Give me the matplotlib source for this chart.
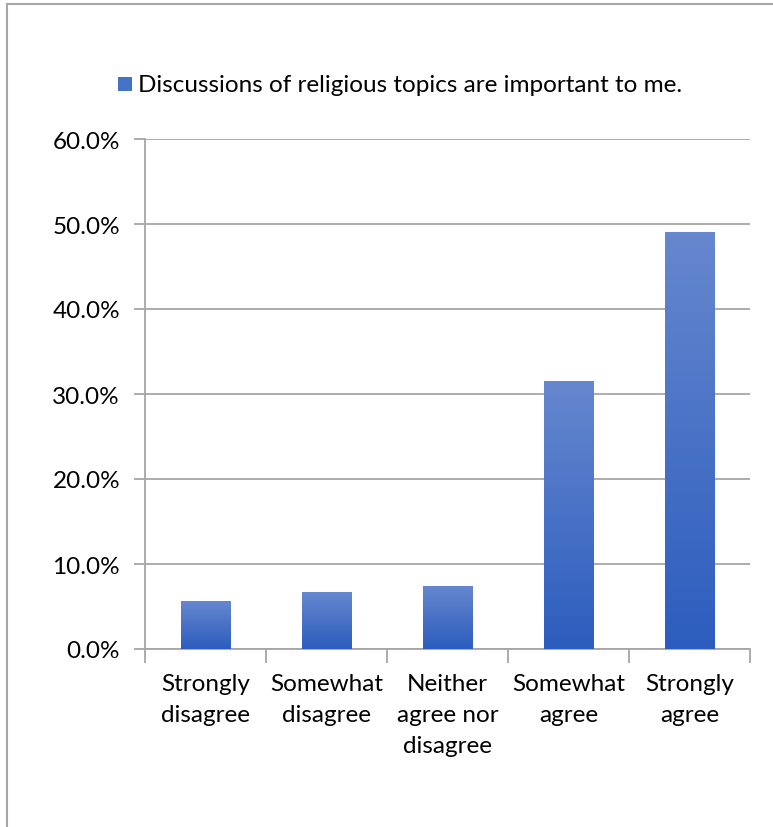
import numpy as np
import matplotlib.pyplot as plt
from matplotlib.patches import Rectangle
from matplotlib.colors import LinearSegmentedColormap

categories = ['Strongly\ndisagree', 'Somewhat\ndisagree', 'Neither\nagree nor\ndisagree',
              'Somewhat\nagree', 'Strongly\nagree']
values = [5.6, 6.6, 7.4, 31.5, 49.0]
series_name = 'Discussions of religious topics are important to me.'
yticks = [0, 10, 20, 30, 40, 50, 60]

plt.rcParams['font.family'] = ['Lato', 'DejaVu Sans']
W, H = 773, 828
fig = plt.figure(figsize=(W / 100, H / 100), dpi=100)

# chart frame (only left and top visible)
fig.add_artist(Rectangle((7 / W, -0.1), 2, (H - 5) / H + 0.1, transform=fig.transFigure,
                         fill=False, edgecolor='#A6A6A6', lw=1.5))

ax = fig.add_axes([145 / W, 1 - 650 / H, 605 / W, 510 / H])
n = len(values)

grad = LinearSegmentedColormap.from_list('g', ['#2C5DBE', '#6687CE'])
bw = 0.41
for i, v in enumerate(values):
    x0 = i + 0.5 - bw / 2
    ax.imshow(np.linspace(1, 0, 100).reshape(-1, 1), cmap=grad, aspect='auto',
              extent=(x0, x0 + bw, 0, v), zorder=3)
ax.set_xlim(0, n)
ax.set_ylim(0, 60)

fs = 17.5
ax.set_yticks(yticks)
ax.set_yticklabels([f'{t:.1f}%' for t in yticks])
ax.yaxis.grid(True, color='#A6A6A6', lw=1.3)
ax.set_axisbelow(True)
ax.set_xticks(np.arange(0, n + 1))
ax.set_xticklabels([])
ax.set_xticks(np.arange(n) + 0.5, minor=True)
ax.set_xticklabels(categories, minor=True, linespacing=1.6)
ax.tick_params(axis='x', which='minor', length=0, pad=17, labelsize=fs)
ax.tick_params(axis='x', which='major', length=10, color='#A6A6A6', width=1.3)
ax.tick_params(axis='y', length=8, color='#A6A6A6', width=1.3, labelsize=fs, pad=10)
for s in ['top', 'right']:
    ax.spines[s].set_visible(False)
for s in ['left', 'bottom']:
    ax.spines[s].set_color('#A6A6A6')
    ax.spines[s].set_linewidth(1.3)

fig.add_artist(Rectangle((118 / W, 1 - 92 / H), 14 / W, 14 / H, transform=fig.transFigure,
                         facecolor='#4472C4', edgecolor='none'))
fig.text(138 / W, 1 - 85 / H, series_name, fontsize=fs, va='center', ha='left')

fig.savefig('out.png', dpi=100)
